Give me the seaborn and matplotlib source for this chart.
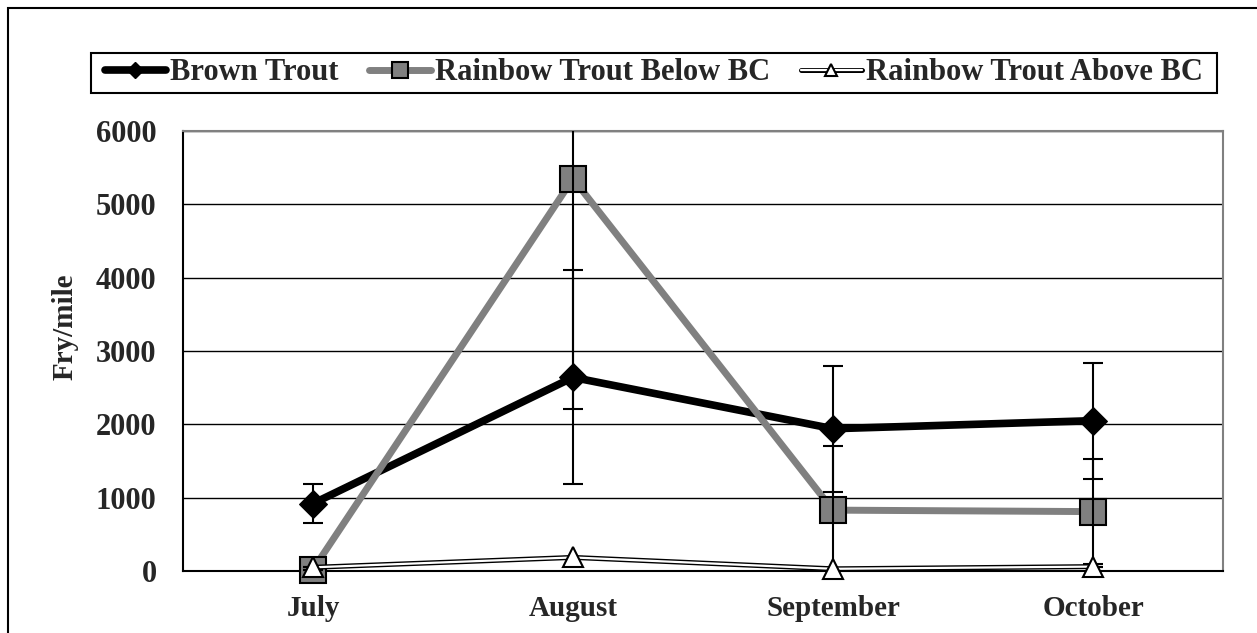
import numpy as np
import pandas as pd
import matplotlib
matplotlib.use("Agg")
import matplotlib.pyplot as plt
import matplotlib.patheffects as pe
from matplotlib.lines import Line2D
from matplotlib.legend_handler import HandlerTuple
from matplotlib.patches import Rectangle
import seaborn as sns

months = ["July", "August", "September", "October"]
brown = [920, 2640, 1940, 2050]
brown_err = [265, 1460, 860, 790]
rb_below = [20, 5350, 830, 810]
rb_below_err = [0, 3140, 870, 720]
rb_above = [50, 185, 30, 60]
rb_above_err = [0, 0, 0, 0]
yticks = [0, 1000, 2000, 3000, 4000, 5000, 6000]

sns.set_style("white")
plt.rcParams["font.family"] = ["Liberation Serif", "DejaVu Serif"]
plt.rcParams["font.weight"] = "bold"

W, H = 1257, 633
fig = plt.figure(figsize=(W / 100, H / 100), dpi=100)
ax = fig.add_axes([183 / W, 1 - 571 / H, (1223 - 183) / W, (571 - 131) / H])

x = np.arange(len(months))
df = pd.DataFrame({"x": x, "brown": brown, "below": rb_below, "above": rb_above})

# grid
for yv in yticks:
    ax.axhline(yv, color="black", lw=1.0, zorder=1)

# Brown trout
sns.lineplot(data=df, x="x", y="brown", ax=ax, color="black", lw=5.5,
             marker="D", markersize=14, markerfacecolor="black",
             markeredgecolor="black", clip_on=False, zorder=3, label="Brown Trout")
# Rainbow below
sns.lineplot(data=df, x="x", y="below", ax=ax, color="#808080", lw=5,
             marker="s", markersize=19, markerfacecolor="#808080",
             markeredgecolor="black", markeredgewidth=1.5, clip_on=False, zorder=3.5,
             label="Rainbow Trout Below BC")
# Rainbow above: double line
sns.lineplot(data=df, x="x", y="above", ax=ax, color="white", lw=1.6,
             path_effects=[pe.Stroke(linewidth=3.6, foreground="black"), pe.Normal()],
             zorder=5, clip_on=False)
ax.plot(x, rb_above, ls="none", marker="^", markersize=14, markerfacecolor="white",
        markeredgecolor="black", markeredgewidth=1.5, clip_on=False, zorder=6)

# error bars
for vals, errs in [(brown, brown_err), (rb_below, rb_below_err), (rb_above, rb_above_err)]:
    ax.errorbar(x, vals, yerr=errs, fmt="none", ecolor="black", elinewidth=1.5,
                capsize=7, capthick=1.5, zorder=4.5)

ax.set_xlim(-0.5, len(months) - 0.5)
ax.set_ylim(0, 6000)
ax.set_yticks(yticks)
ax.set_yticklabels([str(v) for v in yticks])
ax.set_xticks(x)
ax.set_xticklabels(months)
ax.set_xticks(np.arange(-0.5, len(months), 1.0), minor=True)
ax.tick_params(axis="x", which="major", length=0, pad=17, labelsize=21)
ax.tick_params(axis="x", which="minor", direction="out", length=7, width=1.5, color="black")
ax.tick_params(axis="y", direction="out", length=7, width=1.5, color="black", pad=12, labelsize=22)
ax.grid(False)
ax.set_xlabel("")
ax.set_ylabel("Fry/mile", fontsize=21, fontweight="bold")
ax.yaxis.set_label_coords(-0.100, 0.555)

for side in ["left", "bottom"]:
    ax.spines[side].set_color("black")
    ax.spines[side].set_linewidth(1.5)
for side in ["top", "right"]:
    ax.spines[side].set_visible(True)
    ax.spines[side].set_color("#808080")
    ax.spines[side].set_linewidth(1.5)

if ax.get_legend() is not None:
    ax.get_legend().remove()

h_brown = Line2D([], [], color="black", lw=5.5, marker="D", markersize=14,
                 markerfacecolor="black", markeredgecolor="black")
h_below = Line2D([], [], color="#808080", lw=5, marker="s", markersize=19,
                 markerfacecolor="#808080", markeredgecolor="black", markeredgewidth=1.5)
h_above_line = Line2D([], [], color="white", lw=1.6,
                      path_effects=[pe.Stroke(linewidth=3.6, foreground="black"), pe.Normal()])
h_above_mk = Line2D([], [], ls="none", marker="^", markersize=14, markerfacecolor="white",
                    markeredgecolor="black", markeredgewidth=1.5)

leg = fig.legend([h_brown, h_below, (h_above_line, h_above_mk)],
                 ["Brown Trout", "Rainbow Trout Below BC", "Rainbow Trout Above BC"],
                 handler_map={tuple: HandlerTuple(ndivide=1)},
                 loc="center", bbox_to_anchor=(654 / W, 1 - 73 / H), ncol=3,
                 prop={"family": "Liberation Serif", "weight": "bold", "size": 22},
                 frameon=False, handlelength=2.0, handletextpad=0.15, columnspacing=1.0,
                 borderpad=0.1, markerscale=0.6, borderaxespad=0)

# legend box
fig.add_artist(Rectangle((91 / W, 1 - 93 / H), (1217 - 91) / W, 40 / H,
                         transform=fig.transFigure, fill=False, edgecolor="black", lw=1.5))

# outer border
fig.add_artist(Rectangle((8 / W, -0.05), 1.2, 1 - 8 / H + 0.05, transform=fig.transFigure,
                         fill=False, edgecolor="black", lw=1.5))

fig.savefig("out.png", dpi=100)
